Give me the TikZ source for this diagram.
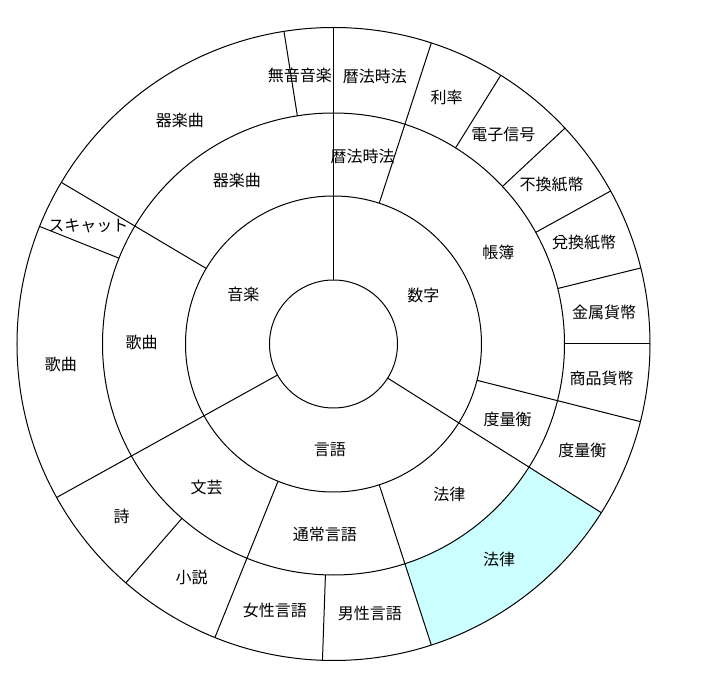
\documentclass[tikz,border=0pt]{standalone}
\usepackage{fontspec}
\usepackage{xcolor}
\usepackage{tikz}
\newfontfamily\jpfont{Noto Sans CJK JP}
\definecolor{lawcyan}{RGB}{204,255,255}
\tikzset{
  ringline/.style={line width=0.75pt, black},
  lbl/.style={font=\jpfont\fontsize{12pt}{14pt}\selectfont, inner sep=0pt}
}

\begin{document}
\begin{tikzpicture}[x=0.75pt, y=0.75pt]
    \useasboundingbox (-333.5,-348) rectangle (373.5,344);

    % Highlighted segment
    \fill [lawcyan] (-72:231) arc [start angle=-72, end angle=-32.2, radius=231]
        -- (-32.2:316.5) arc [start angle=-32.2, end angle=-72, radius=316.5] -- cycle;

    % Rings
    \draw [ringline] (0,0) circle [radius=64];
    \draw [ringline] (0,0) circle [radius=148];
    \draw [ringline] (0,0) circle [radius=231];
    \draw [ringline] (0,0) circle [radius=316.5];

    % Spokes through all rings
    \draw [ringline] (90:64) -- (90:316.5);
    \draw [ringline] (-32.2:64) -- (-32.2:316.5);
    \draw [ringline] (209:64) -- (209:316.5);

    % Spokes through the two outer rings
    \draw [ringline] (72:148) -- (72:316.5);
    \draw [ringline] (-14.2:148) -- (-14.2:316.5);
    \draw [ringline] (-72:148) -- (-72:316.5);
    \draw [ringline] (248:148) -- (248:316.5);
    \draw [ringline] (149.3:148) -- (149.3:316.5);

    % Spokes in the outer ring only
    \draw [ringline] (99:231) -- (99:316.5);
    \draw [ringline] (58.1:231) -- (58.1:316.5);
    \draw [ringline] (43:231) -- (43:316.5);
    \draw [ringline] (28.9:231) -- (28.9:316.5);
    \draw [ringline] (13.9:231) -- (13.9:316.5);
    \draw [ringline] (0:231) -- (0:316.5);
    \draw [ringline] (268:231) -- (268:316.5);
    \draw [ringline] (229:231) -- (229:316.5);
    \draw [ringline] (158.2:231) -- (158.2:316.5);

    % Inner ring
    \node [lbl] (suuji) at (89.8,49) {数字};
    \node [lbl] (ongaku) at (-90.2,50) {音楽};
    \node [lbl] (gengo) at (-3.5,-105.3) {言語};

    % Middle ring
    \node [lbl] (rekihoA) at (29.2,187.3) {暦法時法};
    \node [lbl] (kigakuA) at (-96.5,163.7) {器楽曲};
    \node [lbl] (choubo) at (164.8,91.3) {帳簿};
    \node [lbl] (doryoA) at (174.2,-75.3) {度量衡};
    \node [lbl] (horitsuA) at (115.8,-150.3) {法律};
    \node [lbl] (tsujo) at (-8.5,-190.3) {通常言語};
    \node [lbl] (bungei) at (-126.8,-143.7) {文芸};
    \node [lbl] (kakyokuA) at (-191.8,1.7) {歌曲};

    % Outer ring
    \node [lbl] (muon) at (-33.5,269) {無音音楽};
    \node [lbl] (rekihoB) at (41.5,267.3) {暦法時法};
    \node [lbl] (riritsu) at (113.2,246.7) {利率};
    \node [lbl] (denshi) at (169.8,210) {電子信号};
    \node [lbl] (fukan) at (218.2,159) {不換紙幣};
    \node [lbl] (dakan) at (250.5,101.3) {兌換紙幣};
    \node [lbl] (kinzoku) at (270.5,31.3) {金属貨幣};
    \node [lbl] (shohin) at (268.2,-34.3) {商品貨幣};
    \node [lbl] (doryoB) at (248.8,-106.7) {度量衡};
    \node [lbl] (horitsuB) at (165.5,-215) {法律};
    \node [lbl] (dansei) at (36.5,-269.3) {男性言語};
    \node [lbl] (josei) at (-58.5,-266.7) {女性言語};
    \node [lbl] (shosetsu) at (-141.8,-233.7) {小説};
    \node [lbl] (shi) at (-211.8,-172) {詩};
    \node [lbl] (kakyokuB) at (-272.5,-20) {歌曲};
    \node [lbl] (scat) at (-245.2,118) {スキャット};
    \node [lbl] (kigakuB) at (-153.5,224) {器楽曲};
\end{tikzpicture}
\end{document}
